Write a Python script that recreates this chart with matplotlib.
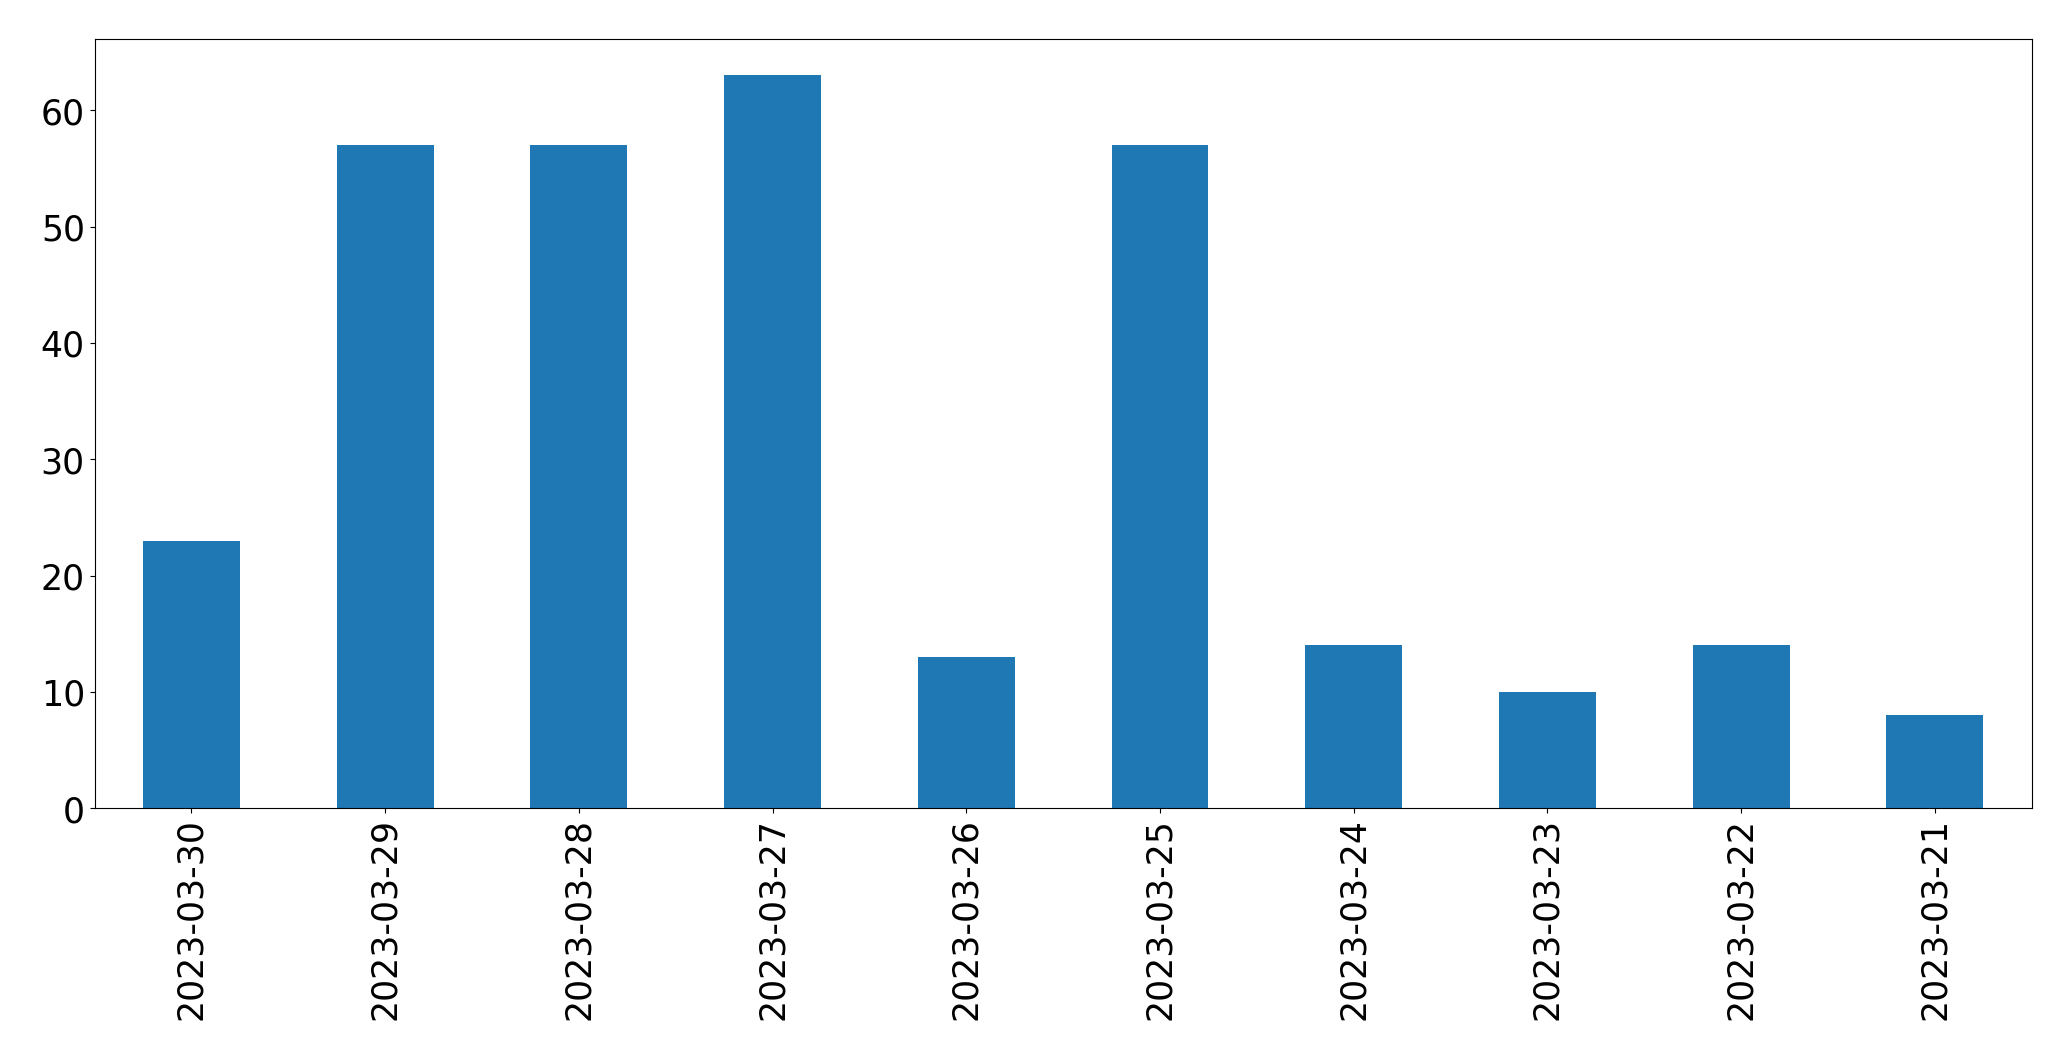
import matplotlib
matplotlib.use("Agg")
import matplotlib.pyplot as plt
import pandas as pd

dates = ["2023-03-30", "2023-03-29", "2023-03-28", "2023-03-27", "2023-03-26",
         "2023-03-25", "2023-03-24", "2023-03-23", "2023-03-22", "2023-03-21"]
counts = [23, 57, 57, 63, 13, 57, 14, 10, 14, 8]

s = pd.Series(counts, index=dates)

fig = plt.figure(figsize=(20.71, 10.605), dpi=100)
ax = fig.add_axes([0.0457, 0.2375, 0.981 - 0.0457, 0.963 - 0.2375])
s.plot(kind="bar", ax=ax, color="#1f77b4", width=0.5)
ax.tick_params(axis="both", labelsize=25)
fig.savefig("out.png", dpi=100)
